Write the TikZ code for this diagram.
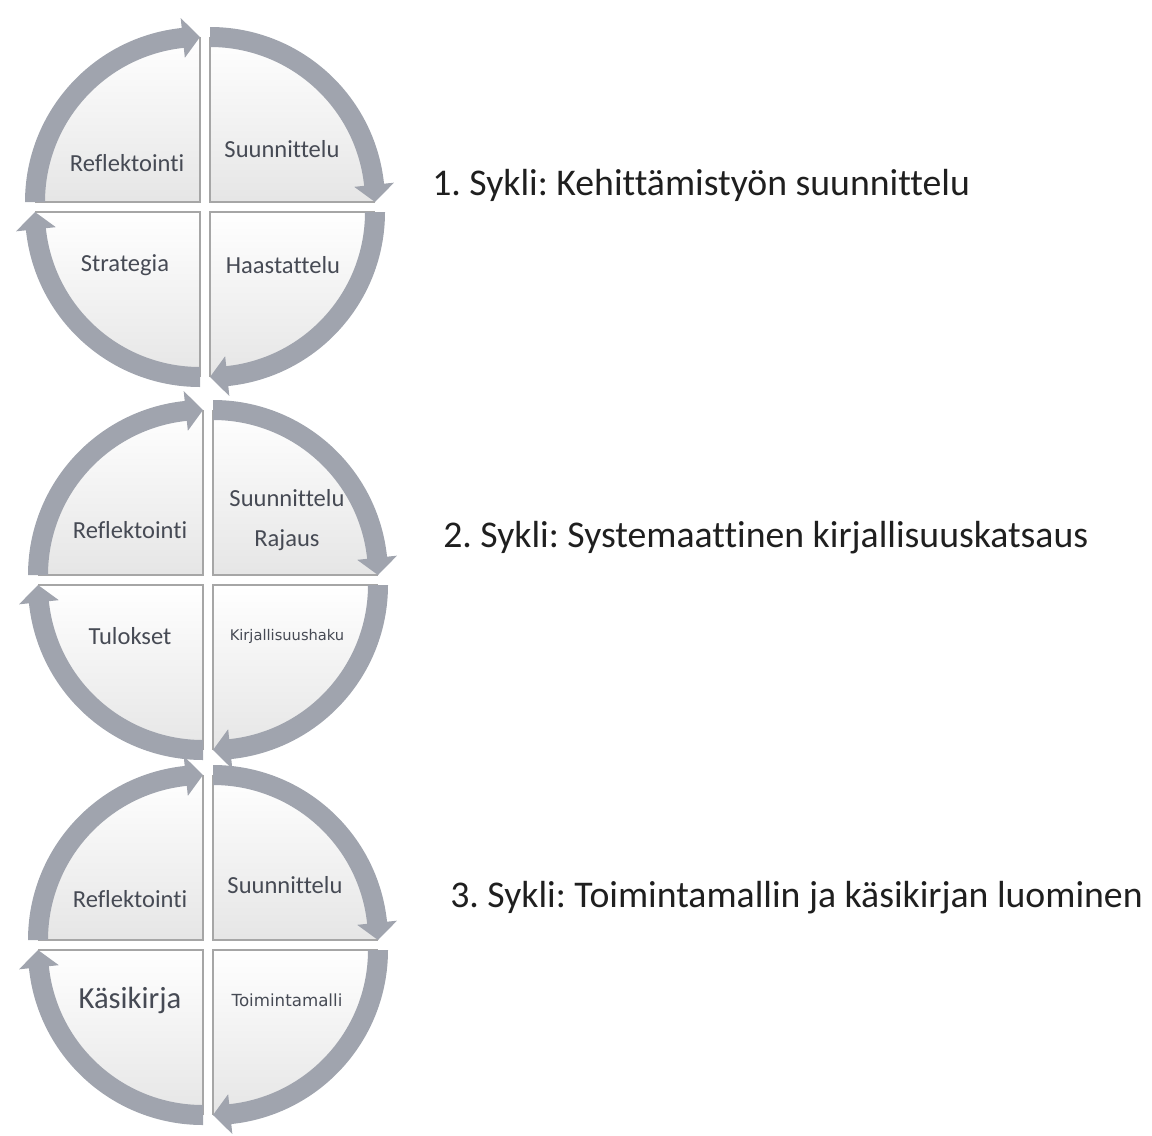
\documentclass[tikz,border=0pt]{standalone}
\usepackage{fontspec}
\setmainfont{Carlito}[Ligatures=NoCommon]
\newfontfamily\pienifont{DejaVu Sans}
\frenchspacing
\definecolor{nuolivari}{RGB}{160,164,174}
\definecolor{tekstivari}{RGB}{70,74,84}
\newcommand{\sade}{165}
% one quarter: corner (x,y), start angle, arrow runs 90 degrees clockwise
\newcommand{\lohko}[3]{%
  \begin{scope}[shift={(#1,#2)}]
    \shade[top color=white, bottom color=black!10] (0,0) -- (#3:\sade)
      arc[start angle=#3, end angle=#3-90, radius=\sade] -- cycle;
    \draw[reuna] (#3:\sade) -- (0,0) -- (#3-90:\sade);
    \fill[nuoli] (#3:\sade+10) arc[start angle=#3, end angle=#3-84, radius=\sade+10]
      -- (#3-84:\sade+20) -- (#3-90:\sade) -- (#3-84:\sade-20) -- (#3-84:\sade-10)
      arc[start angle=#3-84, end angle=#3, radius=\sade-10] -- cycle;
  \end{scope}}
% one cycle of four quarters round centre (x,y)
\newcommand{\sykli}[2]{%
  \lohko{#1+5}{#2+5}{90}
  \lohko{#1+5}{#2-5}{0}
  \lohko{#1-5}{#2-5}{-90}
  \lohko{#1-5}{#2+5}{180}}
\tikzset{
  reuna/.style={draw=black!35, line width=2},
  nuoli/.style={fill=nuolivari},
  teksti/.style={text=tekstivari, font=\fontsize{18.4}{22}\selectfont},
  otsikko/.style={anchor=base west, inner sep=0pt, text=black!88, font=\fontsize{28.3}{34}\selectfont}
}

\begin{document}
\begin{tikzpicture}[x=0.75pt, y=0.75pt]
\useasboundingbox (0,0) rectangle (1152,-1135);
\sykli{205}{-207}
\sykli{208}{-580}
\sykli{208}{-945}
% cycle 1
\node[teksti](R1) at (127,-163) {Reflektointi};
\node[teksti](S1) at (282,-149) {Suunnittelu};
\node[teksti](ST1) at (125,-265) {Strategia};
\node[teksti](H1) at (283,-265) {Haastattelu};
% cycle 2
\node[teksti](R2) at (130,-530) {Reflektointi};
\node[teksti, align=center, font=\fontsize{18.4}{30}\selectfont](S2) at (287,-520) {Suunnittelu\\Rajaus};
\node[teksti](T2) at (130,-636) {Tulokset};
\node[teksti, font=\pienifont\fontsize{11}{13}\selectfont](K2) at (287,-636) {Kirjallisuushaku};
% cycle 3
\node[teksti](R3) at (130,-899) {Reflektointi};
\node[teksti](S3) at (285,-885) {Suunnittelu};
\node[teksti, font=\fontsize{23}{27}\selectfont](K3) at (130,-1000) {Käsikirja};
\node[teksti, font=\pienifont\fontsize{12.5}{15}\selectfont](T3) at (287,-1000) {Toimintamalli};
% titles
\node[otsikko](O1) at (432,-195) {1. Sykli: Kehittämistyön suunnittelu};
\node[otsikko](O2) at (443,-547) {2. Sykli: Systemaattinen kirjallisuuskatsaus};
\node[otsikko](O3) at (450,-907) {3. Sykli: Toimintamallin ja käsikirjan luominen};
\end{tikzpicture}
\end{document}
